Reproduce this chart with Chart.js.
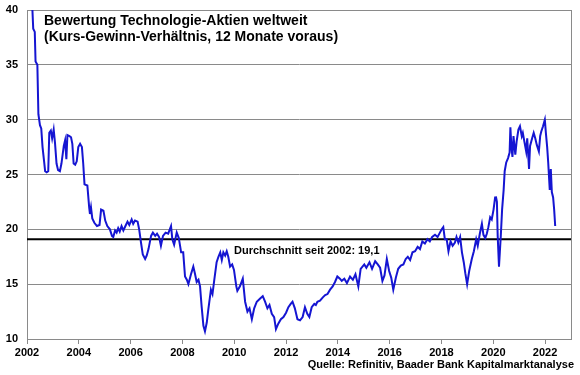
<!DOCTYPE html>
<html>
<head>
<meta charset="utf-8">
<script src="https://cdn.jsdelivr.net/npm/chart.js@4.4.1/dist/chart.umd.min.js"></script>
<style>
  html, body { margin: 0; padding: 0; background: #ffffff; }
  #wrap { width: 580px; height: 375px; position: relative; }
</style>
</head>
<body>
<div id="wrap"><canvas id="c" width="580" height="375"></canvas></div>
<script>
// ---- Data ----
const titleLines = ["Bewertung Technologie-Aktien weltweit", "(Kurs-Gewinn-Verhältnis, 12 Monate voraus)"];
const averageLabel = "Durchschnitt seit 2002: 19,1";
const sourceLabel = "Quelle: Refinitiv, Baader Bank Kapitalmarktanalyse";
const averageValue = 19.1;
const xRange = [2002, 2023];
const yRange = [10, 40];

const dates = [
  2002.00, 2002.10, 2002.20, 2002.24, 2002.30, 2002.33, 2002.40, 2002.44, 2002.50, 2002.55,
  2002.60, 2002.66, 2002.70, 2002.76, 2002.82, 2002.86, 2002.92, 2002.97, 2003.03, 2003.08,
  2003.14, 2003.20, 2003.27, 2003.33, 2003.42, 2003.47, 2003.52, 2003.56, 2003.64, 2003.70,
  2003.75, 2003.80, 2003.86, 2003.92, 2003.98, 2004.05, 2004.12, 2004.17, 2004.22, 2004.33,
  2004.40, 2004.43, 2004.47, 2004.52, 2004.60, 2004.70, 2004.80, 2004.86, 2004.95, 2005.02,
  2005.10, 2005.20, 2005.28, 2005.33, 2005.40, 2005.46, 2005.52, 2005.58, 2005.65, 2005.72,
  2005.80, 2005.88, 2005.95, 2006.04, 2006.10, 2006.17, 2006.27, 2006.33, 2006.40, 2006.47,
  2006.56, 2006.62, 2006.69, 2006.79, 2006.86, 2006.95, 2007.02, 2007.10, 2007.17, 2007.25,
  2007.35, 2007.45, 2007.56, 2007.61, 2007.68, 2007.78, 2007.86, 2007.95, 2008.03, 2008.10,
  2008.17, 2008.23, 2008.33, 2008.42, 2008.48, 2008.55, 2008.62, 2008.68, 2008.74, 2008.81,
  2008.87, 2008.94, 2009.00, 2009.10, 2009.16, 2009.23, 2009.32, 2009.39, 2009.46, 2009.52,
  2009.58, 2009.65, 2009.71, 2009.77, 2009.84, 2009.92, 2009.99, 2010.08, 2010.12, 2010.22,
  2010.33, 2010.42, 2010.51, 2010.59, 2010.68, 2010.77, 2010.87, 2011.00, 2011.10, 2011.19,
  2011.28, 2011.36, 2011.45, 2011.54, 2011.61, 2011.70, 2011.80, 2011.90, 2012.00, 2012.09,
  2012.18, 2012.25, 2012.34, 2012.44, 2012.54, 2012.64, 2012.73, 2012.82, 2012.90, 2012.99,
  2013.09, 2013.15, 2013.21, 2013.31, 2013.42, 2013.51, 2013.60, 2013.70, 2013.80, 2013.89,
  2013.98, 2014.08, 2014.15, 2014.25, 2014.35, 2014.47, 2014.58, 2014.68, 2014.79, 2014.88,
  2015.02, 2015.10, 2015.22, 2015.32, 2015.44, 2015.54, 2015.63, 2015.72, 2015.80, 2015.89,
  2015.98, 2016.06, 2016.14, 2016.24, 2016.33, 2016.43, 2016.53, 2016.62, 2016.70, 2016.79,
  2016.88, 2016.98, 2017.08, 2017.17, 2017.26, 2017.36, 2017.46, 2017.55, 2017.64, 2017.75,
  2017.85, 2017.94, 2018.01, 2018.07, 2018.13, 2018.20, 2018.27, 2018.35, 2018.43, 2018.52,
  2018.58, 2018.65, 2018.72, 2018.79, 2018.86, 2018.92, 2018.99, 2019.07, 2019.17, 2019.25,
  2019.34, 2019.40, 2019.48, 2019.56, 2019.62, 2019.69, 2019.75, 2019.81, 2019.88, 2019.94,
  2020.01, 2020.07, 2020.10, 2020.14, 2020.17, 2020.22, 2020.25, 2020.29, 2020.34, 2020.40,
  2020.44, 2020.50, 2020.57, 2020.63, 2020.66, 2020.70, 2020.74, 2020.78, 2020.85, 2020.90,
  2020.97, 2021.03, 2021.10, 2021.14, 2021.20, 2021.27, 2021.31, 2021.38, 2021.42, 2021.50,
  2021.56, 2021.62, 2021.68, 2021.76, 2021.81, 2021.85, 2021.92, 2021.99, 2022.03, 2022.08,
  2022.12, 2022.18, 2022.22, 2022.26, 2022.31, 2022.35, 2022.39
];

const kgv = [
  46.0, 43.5, 40.5, 38.3, 38.0, 35.3, 35.0, 30.5, 29.5, 29.2,
  27.5, 26.2, 25.3, 25.2, 25.3, 28.8, 29.0, 28.3, 29.1, 27.9,
  26.0, 25.4, 25.3, 26.0, 27.6, 28.1, 26.4, 28.6, 28.5, 28.4,
  27.8, 26.0, 25.9, 26.2, 27.5, 27.8, 27.5, 26.0, 24.1, 24.0,
  22.0, 21.4, 22.0, 21.0, 20.6, 20.3, 20.4, 21.8, 21.7, 20.8,
  20.3, 20.0, 19.4, 19.3, 19.9, 19.7, 20.1, 19.8, 20.3, 19.9,
  20.3, 20.7, 20.4, 20.9, 20.5, 20.8, 20.7, 20.0, 18.8, 17.7,
  17.3, 17.6, 18.2, 19.4, 19.7, 19.4, 19.6, 19.3, 18.5, 19.4,
  19.7, 19.6, 20.3, 19.1, 18.6, 19.7, 19.2, 17.9, 17.9, 15.7,
  15.4, 15.0, 15.9, 16.6, 16.0, 15.2, 15.4, 14.8, 13.0, 11.2,
  10.7, 11.5, 12.7, 14.5, 14.1, 15.4, 17.0, 17.5, 17.9, 17.2,
  17.9, 17.6, 18.0, 17.5, 16.6, 16.8, 16.3, 14.8, 14.4, 14.8,
  15.5, 13.4, 12.5, 12.8, 11.8, 12.8, 13.4, 13.7, 13.9, 13.4,
  12.8, 13.1, 12.3, 12.0, 10.9, 11.4, 11.8, 12.0, 12.4, 12.9,
  13.2, 13.4, 12.8, 11.8, 11.7, 12.0, 12.9, 12.3, 12.0, 12.9,
  13.2, 13.1, 13.4, 13.5, 13.8, 14.0, 14.1, 14.5, 14.8, 15.2,
  15.7, 15.5, 15.3, 15.5, 15.1, 15.7, 15.4, 15.9, 14.8, 16.4,
  16.8, 16.5, 17.0, 16.4, 17.1, 16.8, 16.5, 15.3, 15.8, 17.3,
  16.2, 15.6, 14.5, 15.6, 16.4, 16.7, 16.8, 17.3, 17.5, 17.2,
  17.9, 18.0, 18.4, 18.2, 18.9, 18.7, 19.1, 18.9, 19.3, 19.5,
  19.3, 19.7, 20.0, 20.2, 19.1, 19.1, 18.0, 18.9, 18.5, 18.8,
  19.3, 18.8, 19.3, 17.9, 17.0, 16.0, 15.0, 16.2, 17.3, 18.0,
  19.1, 18.5, 19.6, 20.5, 19.5, 19.2, 19.6, 20.2, 21.1, 20.9,
  21.8, 22.9, 23.0, 22.5, 19.4, 16.6, 17.8, 19.4, 21.8, 23.6,
  25.3, 26.1, 26.5, 27.0, 29.3, 27.5, 26.6, 28.5, 26.8, 28.0,
  29.1, 29.4, 28.5, 28.8, 28.0, 27.1, 28.3, 25.5, 27.6, 28.3,
  28.8, 28.3, 27.7, 27.1, 28.5, 28.9, 29.4, 30.0, 28.8, 27.5,
  26.1, 23.6, 25.5, 23.4, 22.9, 21.8, 20.3
];

const xTickStep = 2;
const yTickStep = 5;

// ---- Styles ----
const FONT = "'Liberation Sans', Arial, sans-serif";
const GRID = '#8a8a8a';
const BLUE = '#1515d2';

const seriesPoints = dates.map((d, i) => ({ x: d, y: kgv[i] }));
const averagePoints = [{ x: xRange[0], y: averageValue }, { x: xRange[1], y: averageValue }];

const textPlugin = {
  id: 'texts',
  afterDraw(chart) {
    const { ctx, chartArea, scales } = chart;
    ctx.save();
    // right border
    ctx.strokeStyle = GRID;
    ctx.lineWidth = 1;
    ctx.beginPath();
    ctx.moveTo(Math.round(chartArea.right) + 0.5, chartArea.top);
    ctx.lineTo(Math.round(chartArea.right) + 0.5, chartArea.bottom);
    ctx.stroke();

    ctx.fillStyle = '#000';
    ctx.textBaseline = 'alphabetic';
    ctx.font = 'bold 14px ' + FONT;
    ctx.textAlign = 'left';
    ctx.fillText(titleLines[0], 44, 25);
    ctx.fillText(titleLines[1], 44, 41);

    ctx.font = 'bold 11px ' + FONT;
    ctx.textAlign = 'center';
    ctx.fillText(averageLabel, scales.x.getPixelForValue(2012.8), scales.y.getPixelForValue(17.75));

    ctx.textAlign = 'right';
    ctx.fillText(sourceLabel, 574, 368);
    ctx.restore();
  }
};

new Chart(document.getElementById('c'), {
  type: 'line',
  data: {
    datasets: [
      {
        data: seriesPoints,
        borderColor: BLUE,
        borderWidth: 2,
        pointRadius: 0,
        tension: 0,
        fill: false
      },
      {
        data: averagePoints,
        borderColor: '#000000',
        borderWidth: 2,
        pointRadius: 0,
        fill: false
      }
    ]
  },
  options: {
    responsive: false,
    animation: false,
    events: [],
    layout: { padding: { top: 10, right: 9, left: 0, bottom: 0 } },
    plugins: { legend: { display: false }, tooltip: { enabled: false }, title: { display: false } },
    scales: {
      x: {
        type: 'linear',
        min: xRange[0],
        max: xRange[1],
        border: { display: true, color: GRID, width: 1 },
        grid: { drawOnChartArea: false, drawTicks: true, tickLength: 5, color: GRID },
        ticks: {
          stepSize: xTickStep,
          includeBounds: false,
          autoSkip: false,
          maxRotation: 0,
          padding: 2,
          color: '#000',
          font: { family: FONT, size: 11, weight: 'bold' },
          callback: v => String(v)
        },
        afterFit(scale) { scale.height = 36; }
      },
      y: {
        min: yRange[0],
        max: yRange[1],
        border: { display: true, color: GRID, width: 1 },
        grid: { color: GRID, drawTicks: false, lineWidth: 1 },
        ticks: {
          stepSize: yTickStep,
          padding: 9,
          color: '#000',
          font: { family: FONT, size: 11, weight: 'bold' }
        },
        afterFit(scale) {
          scale.width = 27;
          scale.paddingTop = 0;
          scale.paddingBottom = 0;
        }
      }
    }
  },
  plugins: [textPlugin]
});
</script>
</body>
</html>
